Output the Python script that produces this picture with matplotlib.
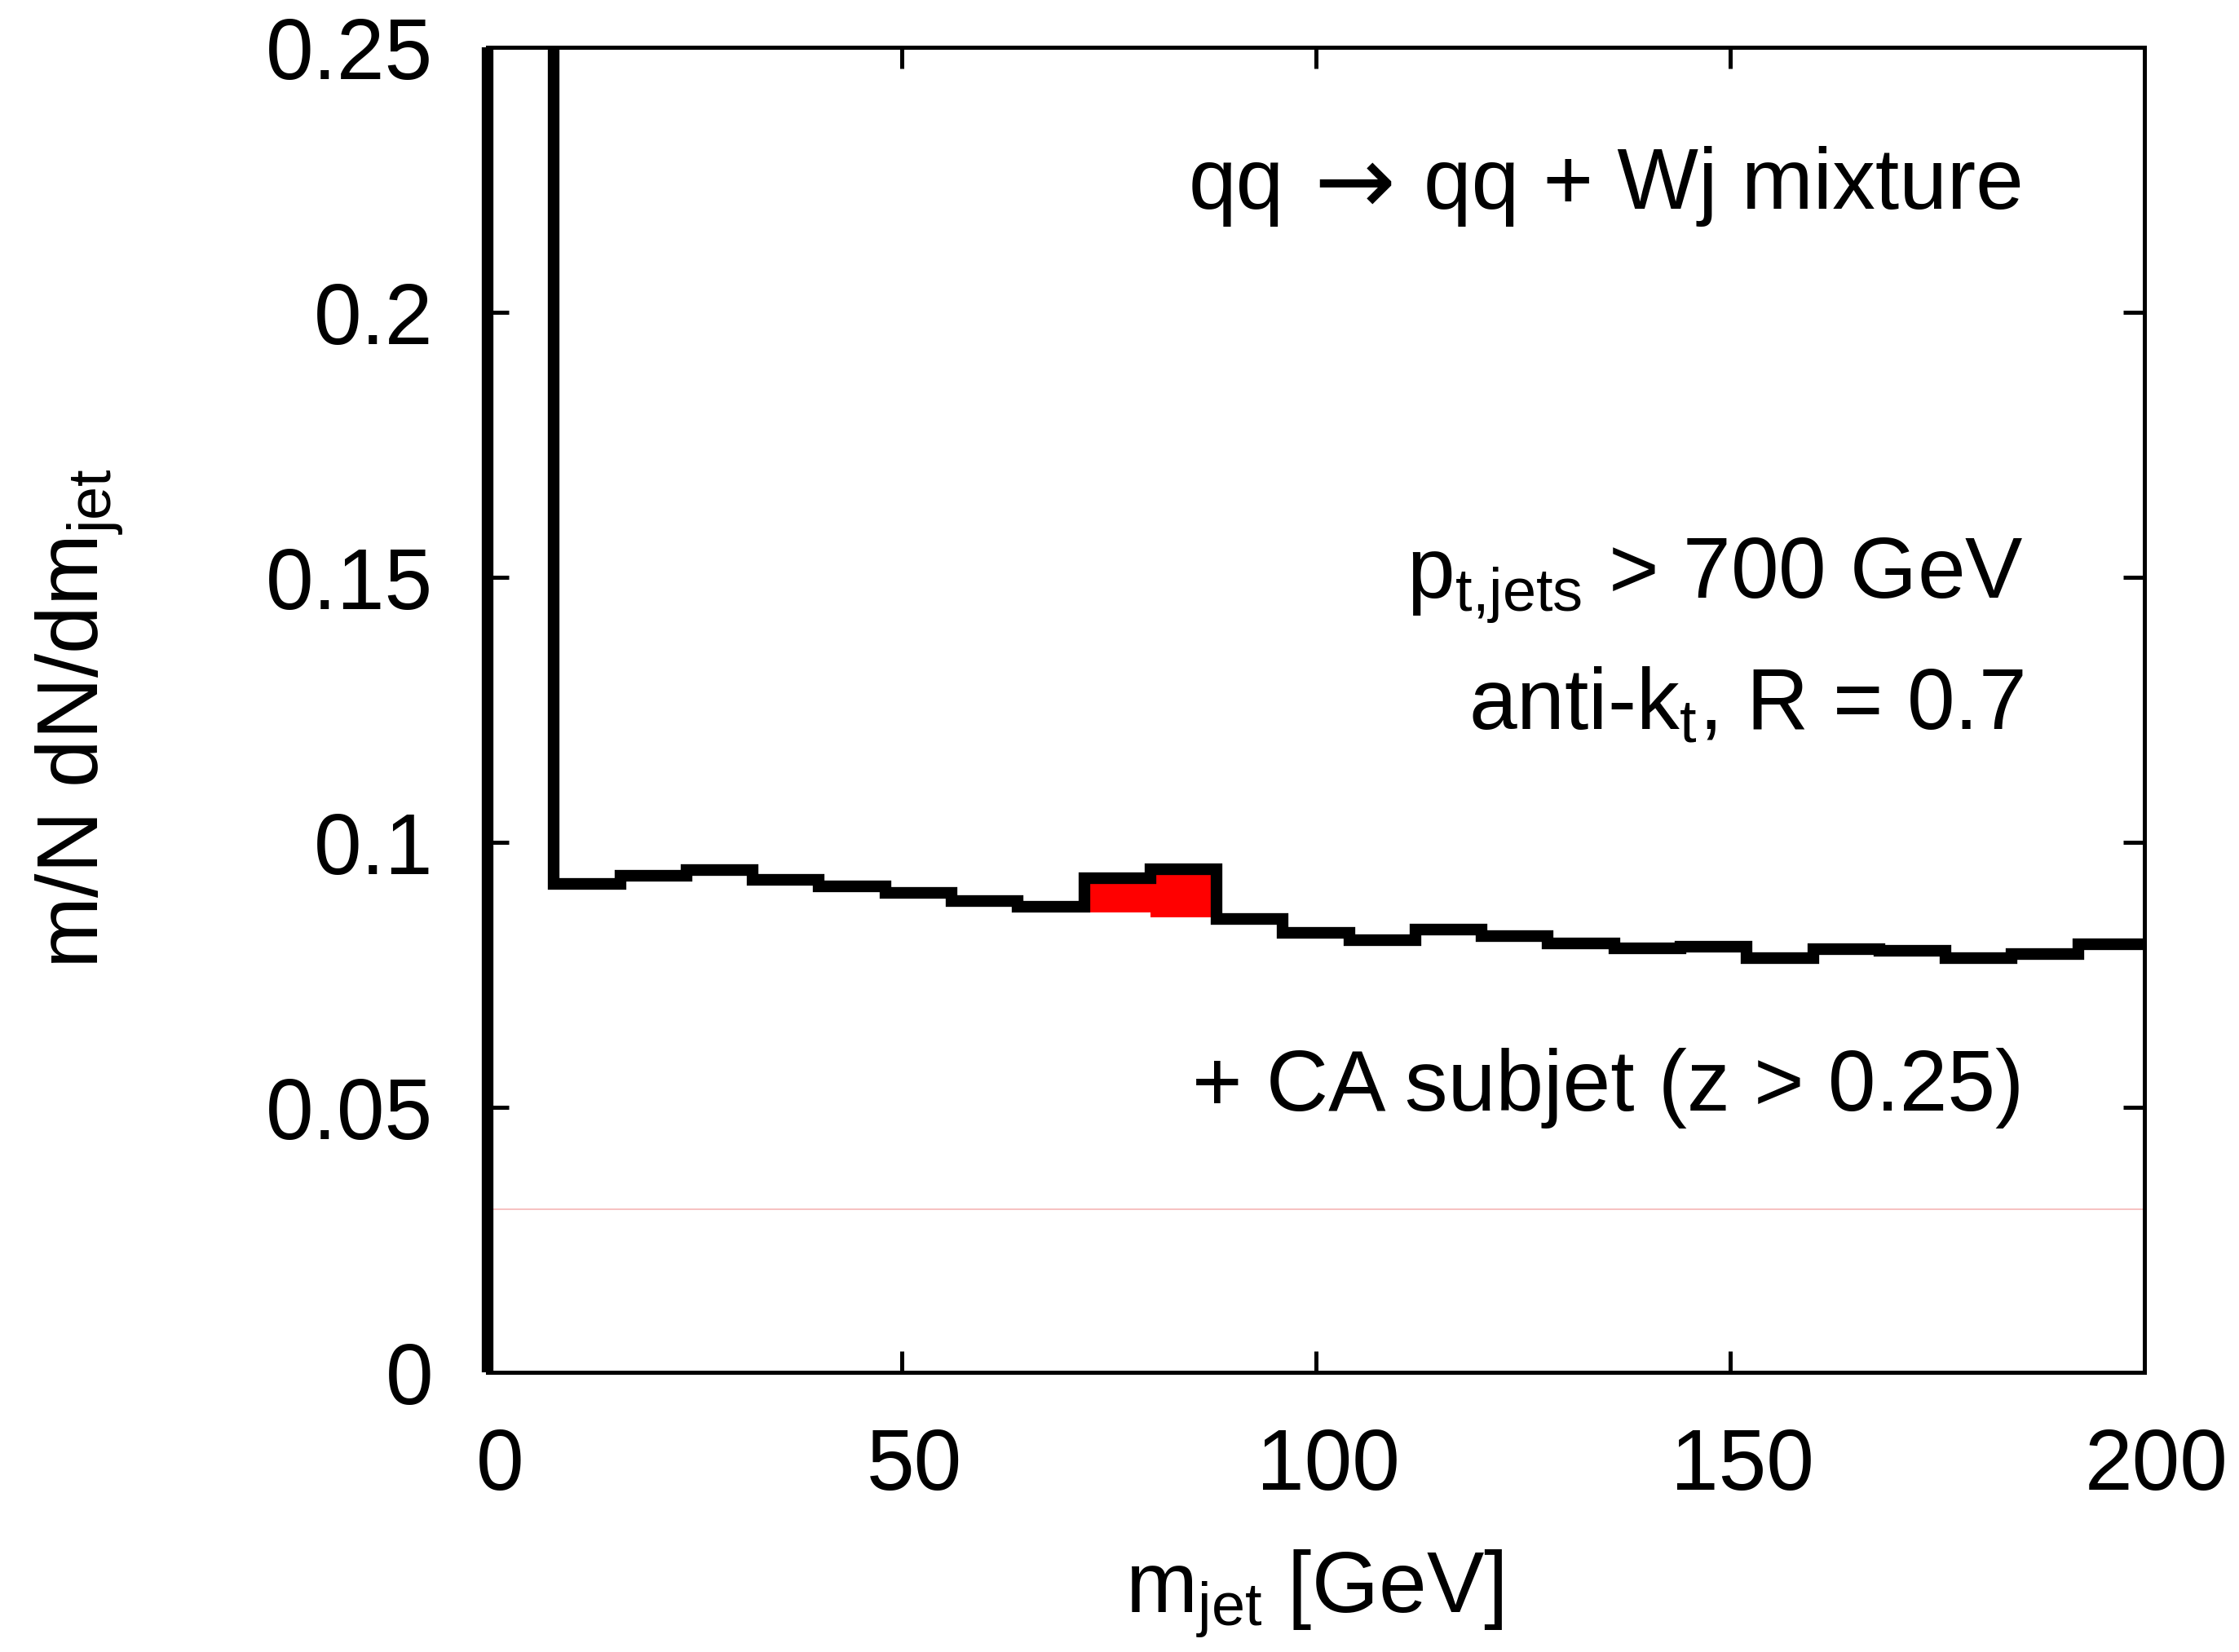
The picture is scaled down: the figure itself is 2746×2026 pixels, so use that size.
import numpy as np
import matplotlib
matplotlib.use("Agg")
import matplotlib.pyplot as plt
import matplotlib.transforms as mtransforms
from matplotlib.patches import Rectangle

# ---- data -------------------------------------------------------------
bin_edges = np.arange(0, 201, 8)          # m_jet bin edges [GeV]
# m/N dN/dm_jet per bin (first bin runs far above the plotted range)
mass_dist = [0.60, 0.0922, 0.0937, 0.0947, 0.0930, 0.0917, 0.0904, 0.0890,
             0.0879, 0.0932, 0.0950, 0.0855, 0.0829, 0.0816, 0.0836, 0.0823,
             0.0810, 0.0800, 0.0803, 0.0781, 0.0798, 0.0796, 0.0781, 0.0790,
             0.0807]
# highlighted W mass window
window_edges = [72, 80, 88]
window_low = [0.0867, 0.0858]
window_high = [0.0932, 0.0950]
# faint reference level
ref_level = 0.0308

x_ticks = [0, 50, 100, 150, 200]
y_ticks = [0, 0.05, 0.1, 0.15, 0.2, 0.25]
y_tick_labels = ["0", "0.05", "0.1", "0.15", "0.2", "0.25"]

# ---- style ------------------------------------------------------------
DPI = 200
FS = 38
plt.rcParams["font.family"] = ["Liberation Sans", "DejaVu Sans"]
plt.rcParams["mathtext.fontset"] = "custom"
plt.rcParams["mathtext.rm"] = "Liberation Sans"
plt.rcParams["mathtext.it"] = "Liberation Sans:italic"
plt.rcParams["mathtext.bf"] = "Liberation Sans:bold"
plt.rcParams["font.size"] = FS

px = 72.0 / DPI  # one pixel in points
W, H = 2746, 2026
AX_L, AX_R, AX_T, AX_B = 598, 2630, 58, 1683

fig = plt.figure(figsize=(W / DPI, H / DPI), dpi=DPI)
ax = fig.add_axes([AX_L / W, 1 - AX_B / H,
                   (AX_R - AX_L) / W, (AX_B - AX_T) / H])

ax.set_xlim(0, 200)
ax.set_ylim(0, 0.25)

# red mass-window band
ax.stairs(window_high, window_edges, baseline=window_low, fill=True,
          color="#ff0000", linewidth=0, zorder=2)

# faint pink level line
ax.axhline(ref_level, color="#f5bcbc", linewidth=1.8 * px, zorder=1.5)

# main histogram outline: starts at zero on the left edge
edges = np.asarray(bin_edges, dtype=float)
vals = np.asarray(mass_dist, dtype=float)
xs = np.concatenate([[edges[0]], np.repeat(edges, 2)[1:-1]])
ys = np.concatenate([[0.0], np.repeat(vals, 2)])
line, = ax.plot(xs, ys, color="black", linewidth=14.3 * px,
                solid_joinstyle="miter", solid_capstyle="butt", zorder=3)
clip = Rectangle((-0.02, 0.0), 1.04, 1.0, transform=ax.transAxes,
                 facecolor="none", edgecolor="none")
line.set_clip_path(clip)

# frame and ticks
for sp in ax.spines.values():
    sp.set_linewidth(5 * px)
    sp.set_zorder(4)

ax.set_xticks(x_ticks)
ax.set_xticklabels([str(v) for v in x_ticks])
ax.set_yticks(y_ticks)
ax.set_yticklabels(y_tick_labels)
ax.tick_params(which="major", direction="in", length=26 * px,
               width=5 * px, top=True, right=True, labelsize=FS, pad=24)
ax.minorticks_off()

offset = mtransforms.ScaledTranslation(15 / DPI, 0, fig.dpi_scale_trans)
for lbl in ax.get_xticklabels():
    lbl.set_transform(lbl.get_transform() + offset)

# annotations (positions given in figure pixels, converted to axes fraction)
def xpos(pix):
    return (pix - AX_L) / (AX_R - AX_L)

def ypos(pix):
    return (AX_B - pix) / (AX_B - AX_T)

tx = xpos(2482)
ax.text(tx, ypos(256), "qq + Wj mixture",
        transform=ax.transAxes, ha="right", va="baseline", fontsize=FS)
ax.text(xpos(1661), ypos(262), "\u2192", family="DejaVu Sans",
        transform=ax.transAxes, ha="center", va="baseline", fontsize=43)
ax.text(xpos(1575), ypos(256), "qq",
        transform=ax.transAxes, ha="right", va="baseline", fontsize=FS)
ax.text(tx, ypos(733), r"$\mathrm{p_{t{,}jets}}$ > 700 GeV",
        transform=ax.transAxes, ha="right", va="baseline", fontsize=FS)
ax.text(tx, ypos(895), r"anti-$\mathrm{k_t}$, R = 0.7",
        transform=ax.transAxes, ha="right", va="baseline", fontsize=FS)
ax.text(tx, ypos(1362), "+ CA subjet (z > 0.25)", transform=ax.transAxes,
        ha="right", va="baseline", fontsize=FS)

# axis titles
fig.text(1612 / W, 1 - 1977 / H, r"$\mathrm{m_{jet}}$ [GeV]",
         ha="center", va="baseline", fontsize=FS)
fig.text(98 / W, 1 - 881 / H, r"$\mathrm{m/N\ dN/dm_{jet}}$",
         rotation=90, ha="center", va="center", fontsize=FS)

fig.savefig("out.png", dpi=DPI, facecolor="white")
